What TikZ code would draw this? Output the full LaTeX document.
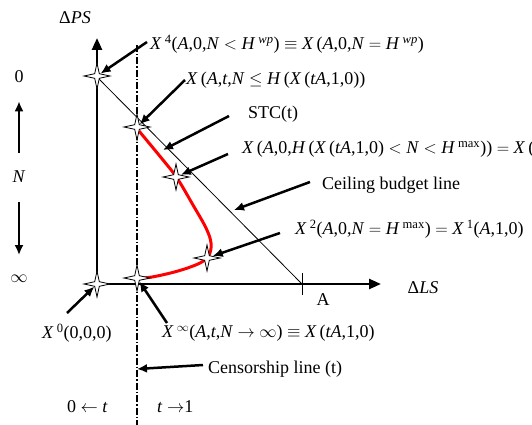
\documentclass[tikz,border=0pt]{standalone}
\usepackage{fontspec}
\setmainfont{Liberation Serif}
\usetikzlibrary{shapes.geometric, arrows.meta, positioning}
\definecolor{StcRed}{RGB}{255, 0, 0}

\newcommand{\iv}[1]{\textit{#1}}
\newcommand{\sps}[1]{\,\textsuperscript{#1}}

\begin{document}
\begin{tikzpicture}[x=1pt, y=-1pt, font=\fontsize{18}{21}\selectfont,
    axis/.style={line width=2.5pt, -{Triangle[length=12pt, width=10pt]}},
    pointer/.style={line width=2.5pt, -{Latex[length=10pt, width=9pt]}},
    sparkle/.style={star, star points=4, star point ratio=4, minimum size=26pt, inner sep=0pt, draw, line width=0.8pt, fill=white},
    lbl/.style={anchor=west, inner sep=0pt},
    censor/.style={line width=1.5pt, dash pattern=on 7pt off 2pt on 1.5pt off 2pt}]

    \useasboundingbox (0,0) rectangle (532,425);

    % --- Define geometry ---
    \def\ox{97}   % origin
    \def\oy{284}
    \def\tx{137}  % censorship line
    \def\ax{302}  % A on the LS axis

    \coordinate (O) at (\ox,\oy);
    \coordinate (ytip) at (\ox,38);
    \coordinate (xtip) at (381,\oy);
    \coordinate (Atick) at (\ax,\oy);
    \coordinate (ctop) at (\tx,45);
    \coordinate (cbot) at (\tx,425);

    % --- Ceiling budget line and censorship line ---
    \draw[line width=0.8pt] (\ox,77) -- (Atick);
    \draw[line width=0.8pt] (\ax,273) -- (\ax,295);
    \draw[censor] (ctop) -- (cbot);

    % --- STC(t) curve ---
    \draw[StcRed, line width=3pt] plot[smooth, tension=0.6] coordinates {
        (139,131) (163,160) (177,178) (193,205) (206,228) (211,243)
        (209,255) (200,263) (178,271) (152,277) (138,278)
    };

    % --- Axes ---
    \draw[axis] (O) -- (ytip);
    \draw[axis] (O) -- (xtip);

    % --- Points ---
    \foreach \nm/\px/\py in {S1/97/76, S2/137/127, S3/176/177, S4/207/258, S0/97/284, S6/137/278} {
        \node[sparkle] (\nm) at (\px,\py) {};
    }

    % --- Labels ---
    \node (lblps) at (75,18) {Δ\iv{PS}};
    \node (lblls) at (423,288) {Δ\iv{LS}};
    \node (lbla) at (323,300) {A};
    \node[inner sep=0pt] (zero) at (19,77) {0};
    \node[inner sep=0pt] (nlab) at (19,177) {\iv{N}};
    \node[inner sep=0pt] (inflab) at (19,279) {$\infty$};

    \node[lbl] (lbl4) at (150,44) {\iv{X}\sps{4}(\iv{A},0,\iv{N} $<$ \iv{H}\sps{\iv{wp}}) $\equiv$ \iv{X}\,(\iv{A},0,\iv{N} $=$ \iv{H}\sps{\iv{wp}})};
    \node[lbl] (lblt) at (186,80) {\iv{X}\,(\iv{A},\iv{t},\iv{N} $\leq$ \iv{H}\,(\iv{X}\,(\iv{tA},1,0))};
    \node[lbl] (lblstc) at (248,114) {STC(t)};
    \node[lbl] (lblmid) at (242,149) {\iv{X}\,(\iv{A},0,\iv{H}\,(\iv{X}\,(\iv{tA},1,0) $<$ \iv{N} $<$ \iv{H}\sps{max})) $=$ \iv{X}\,(};
    \node[lbl] (lblceil) at (322,185) {Ceiling budget line};
    \node[lbl] (lbl2) at (295,229) {\iv{X}\sps{2}(\iv{A},0,\iv{N} $=$ \iv{H}\sps{max}) $=$ \iv{X}\sps{1}(\iv{A},1,0)};
    \node[lbl] (lbl0) at (42,333) {\iv{X}\sps{0}(0,0,0)};
    \node[lbl] (lblinf) at (162,333) {\iv{X}\sps{$\infty$}(\iv{A},\iv{t},\iv{N} $\rightarrow$ $\infty$) $\equiv$ \iv{X}\,(\iv{tA},1,0)};
    \node[lbl] (lblcens) at (208,369) {Censorship line (t)};
    \node[lbl] (lbltl) at (67,407) {0 $\leftarrow$ \iv{t}};
    \node[lbl] (lbltr) at (157,407) {\iv{t} $\rightarrow$1};

    % --- Pointers ---
    \coordinate (p4) at (147,42);
    \coordinate (pt) at (185,80);
    \coordinate (pstc) at (229,116);
    \coordinate (hstc) at (163,150);
    \coordinate (pmid) at (228,154);
    \coordinate (pceil) at (310,182);
    \coordinate (hceil) at (234,210);
    \coordinate (p2) at (280,233);
    \coordinate (p0) at (67,313);
    \coordinate (pinf) at (167,323);
    \coordinate (pcens) at (203,365);
    \coordinate (hcens) at (\tx,369);

    \draw[pointer] (p4) -- (S1);
    \draw[pointer] (pt) -- (S2);
    \draw[pointer] (pstc) -- (hstc);
    \draw[pointer] (pmid) -- (S3);
    \draw[pointer] (pceil) -- (hceil);
    \draw[pointer] (p2) -- (S4);
    \draw[pointer] (p0) -- (S0);
    \draw[pointer] (pinf) -- (S6);
    \draw[pointer] (pcens) -- (hcens);

    % N direction
    \draw[pointer, shorten <=18pt, shorten >=18pt] (nlab) -- (zero);
    \draw[pointer, shorten <=19pt, shorten >=20pt] (nlab) -- (inflab);

\end{tikzpicture}
\end{document}
